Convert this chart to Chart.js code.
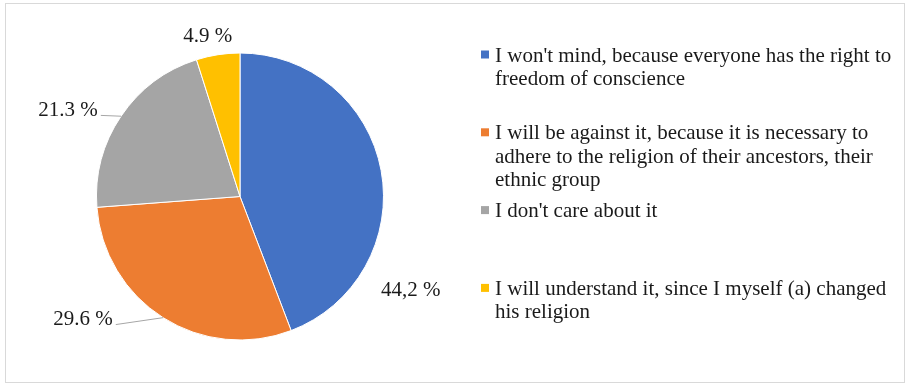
<!DOCTYPE html>
<html>
<head>
<meta charset="utf-8">
<script src="https://cdn.jsdelivr.net/npm/chart.js@4.4.1/dist/chart.umd.min.js"></script>
<style>
  html, body { margin: 0; padding: 0; background: #fff; }
  #wrap { position: relative; width: 908px; height: 384px; }
</style>
</head>
<body>
<div id="wrap"><canvas id="pie" width="908" height="384"></canvas></div>
<script>
const categories = [
    "I won't mind, because everyone has the right to freedom of conscience",
    "I will be against it, because it is necessary to adhere to the religion of their ancestors, their ethnic group",
    "I don't care about it",
    "I will understand it, since I myself (a) changed his religion"
];
const values = [44.2, 29.6, 21.3, 4.9];
const valueLabels = ['44,2 %', '29.6 %', '21.3 %', '4.9 %'];
const colors = ['#4472C4', '#ED7D31', '#A5A5A5', '#FFC000'];

// where Excel put the data labels: angle (deg, from 3 o'clock, clockwise) and distance in radii
const labelSpots = [
    { angle: 28.9, dist: 1.36, leader: false },
    { angle: 141.9, dist: 1.39, leader: true },
    { angle: 206.6, dist: 1.34, leader: true },
    { angle: 258.6, dist: 1.135, leader: false }
];

const FONT = '21px "Liberation Serif", "Times New Roman", serif';
const TEXT_COLOR = '#1a1a1a';

function wrap(ctx, text, maxWidth) {
    const words = text.split(' ');
    const lines = [];
    let line = '';
    words.forEach(w => {
        const test = line ? line + ' ' + w : w;
        if (ctx.measureText(test).width > maxWidth && line) {
            lines.push(line);
            line = w;
        } else {
            line = test;
        }
    });
    if (line) lines.push(line);
    return lines;
}

const framePlugin = {
    id: 'frame',
    beforeDraw(chart) {
        const ctx = chart.ctx;
        ctx.save();
        ctx.strokeStyle = '#d9d9d9';
        ctx.lineWidth = 1;
        ctx.strokeRect(5.5, 3.5, 899, 379);
        ctx.restore();
    }
};

const labelPlugin = {
    id: 'sliceLabels',
    afterDatasetsDraw(chart) {
        const ctx = chart.ctx;
        const arcs = chart.getDatasetMeta(0).data;
        ctx.save();
        ctx.font = FONT;
        ctx.fillStyle = TEXT_COLOR;
        ctx.textAlign = 'center';
        ctx.textBaseline = 'middle';
        arcs.forEach((arc, i) => {
            const p = arc.getProps(['x', 'y', 'outerRadius', 'startAngle', 'endAngle'], true);
            const spot = labelSpots[i];
            const a = spot.angle * Math.PI / 180;
            const lx = p.x + Math.cos(a) * p.outerRadius * spot.dist;
            const ly = p.y + Math.sin(a) * p.outerRadius * spot.dist;
            ctx.fillText(valueLabels[i], lx, ly);
            if (spot.leader) {
                const w = ctx.measureText(valueLabels[i]).width;
                const mid = (p.startAngle + p.endAngle) / 2;
                const ex = p.x + Math.cos(mid) * p.outerRadius;
                const ey = p.y + Math.sin(mid) * p.outerRadius;
                ctx.beginPath();
                ctx.strokeStyle = '#a6a6a6';
                ctx.lineWidth = 1;
                ctx.moveTo(lx + w / 2 + 3, ly + 5);
                ctx.lineTo(ex, ey);
                ctx.stroke();
            }
        });
        ctx.restore();
    }
};

const legendPlugin = {
    id: 'sideLegend',
    afterDraw(chart) {
        const ctx = chart.ctx;
        ctx.save();
        ctx.font = FONT;
        ctx.textAlign = 'left';
        ctx.textBaseline = 'alphabetic';
        categories.forEach((cat, i) => {
            const base = 61.5 + i * 77.8;
            ctx.fillStyle = colors[i];
            ctx.fillRect(481, base - 11, 8, 8);
            ctx.fillStyle = TEXT_COLOR;
            wrap(ctx, cat, 402).forEach((line, j) => {
                ctx.fillText(line, 495, base + j * 23.4);
            });
        });
        ctx.restore();
    }
};

new Chart(document.getElementById('pie'), {
    type: 'pie',
    data: {
        labels: categories,
        datasets: [{
            data: values,
            backgroundColor: colors,
            borderColor: '#ffffff',
            borderWidth: 1
        }]
    },
    options: {
        responsive: false,
        animation: false,
        layout: { padding: { left: 96, right: 524, top: 52, bottom: 43 } },
        plugins: {
            legend: { display: false },
            tooltip: { enabled: false }
        }
    },
    plugins: [framePlugin, labelPlugin, legendPlugin]
});
</script>
</body>
</html>
